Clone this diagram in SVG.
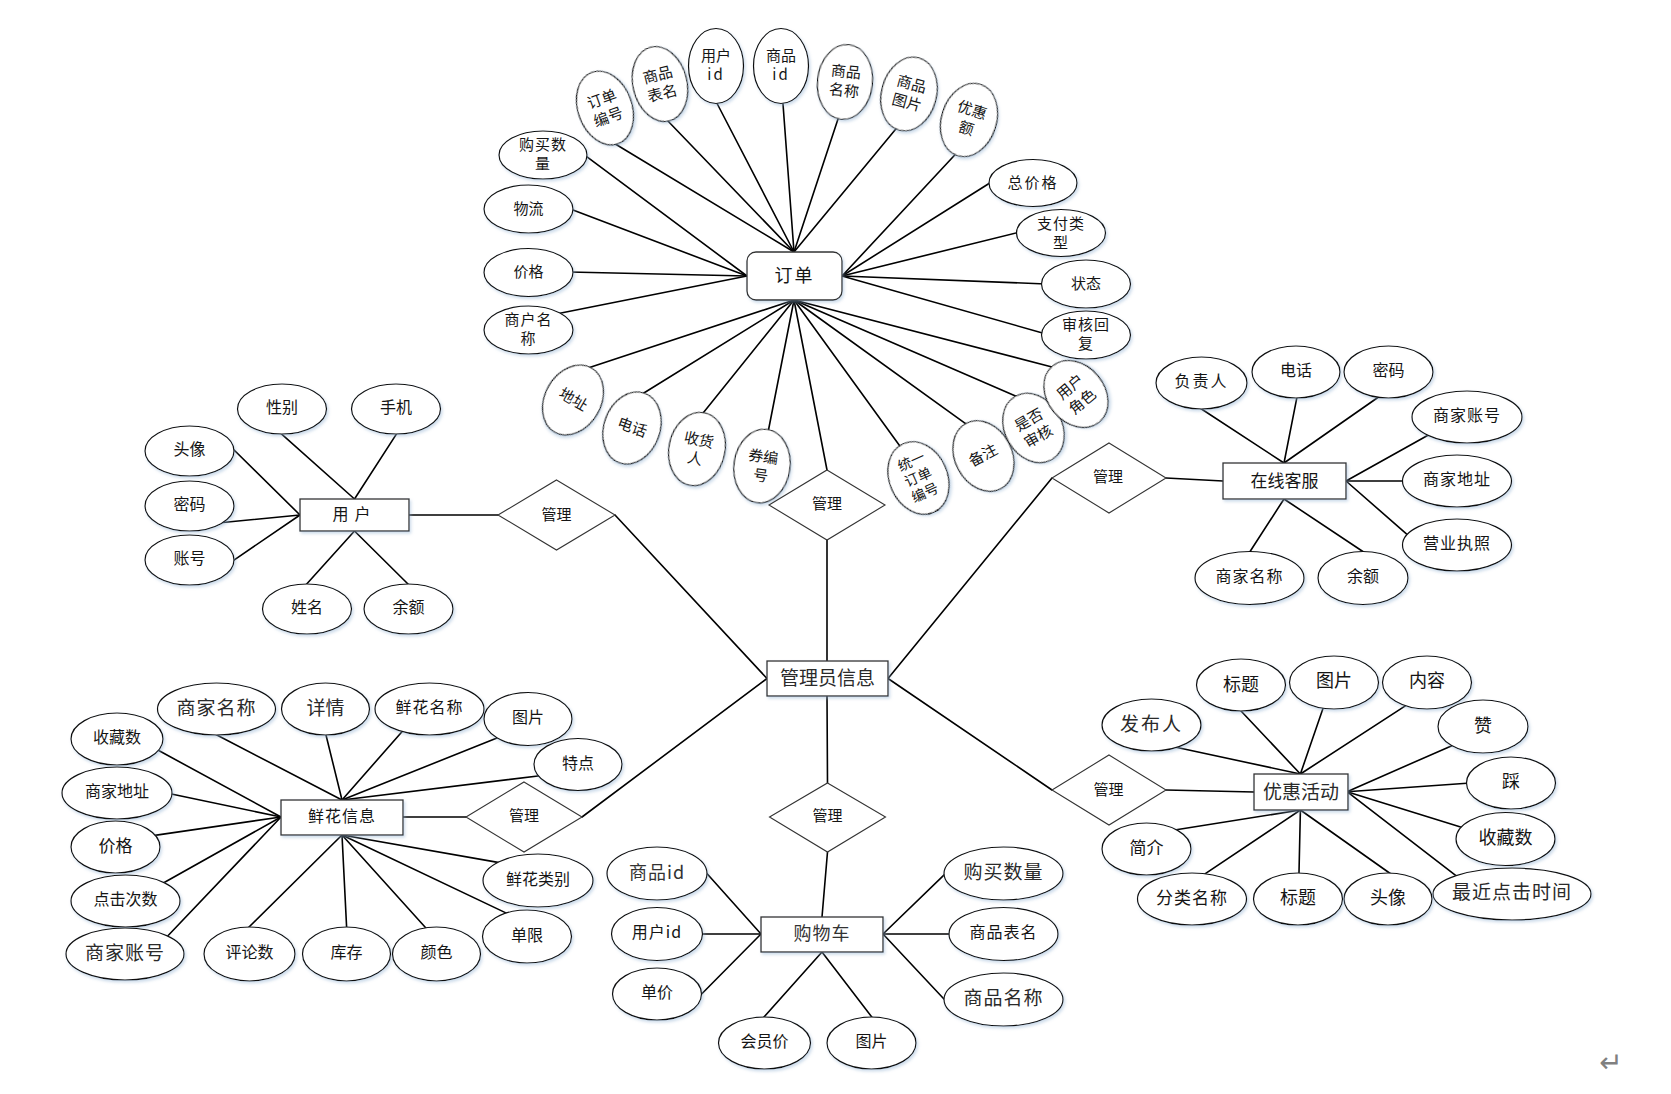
<svg xmlns="http://www.w3.org/2000/svg" width="1671" height="1094" viewBox="0 0 1671 1094">
<style>
.ln{stroke:#000;stroke-width:1.6;fill:none;stroke-linecap:round}
.el{fill:#fff;stroke:#111;stroke-width:1.2;filter:url(#sh)}
.rc{fill:#fff;stroke:#333;stroke-width:1.3;filter:url(#sh)}
.dm{fill:#fff;stroke:#333;stroke-width:1.1}
text{font-family:"Noto Sans CJK SC","Noto Sans",sans-serif;text-anchor:middle;dominant-baseline:central;fill:#151515;font-size:16px;transform:translateY(-2px)}
.s15{font-size:15px}
.s14{font-size:14px}
.s17{font-size:17px}
.s18{font-size:18px}
.s19{font-size:19px;fill:#2a2a2a}
.g{fill:#333}
</style>
<defs>
<filter id="sh" x="-20%" y="-20%" width="140%" height="150%">
<feDropShadow dx="1.5" dy="2" stdDeviation="1.4" flood-color="#8fb0d0" flood-opacity="0.45"/>
</filter>
</defs>
<rect width="1671" height="1094" fill="#fff"/>
<g id="connectors">
<line class="ln" x1="794" y1="252" x2="612" y2="142"/>
<line class="ln" x1="794" y1="252" x2="666" y2="119"/>
<line class="ln" x1="794" y1="252" x2="715" y2="99.5"/>
<line class="ln" x1="794" y1="252" x2="782.7" y2="100"/>
<line class="ln" x1="794" y1="252" x2="839" y2="116"/>
<line class="ln" x1="794" y1="252" x2="897.5" y2="127"/>
<line class="ln" x1="842" y1="276" x2="955.7" y2="154"/>
<line class="ln" x1="842" y1="276" x2="991.4" y2="182"/>
<line class="ln" x1="842" y1="276" x2="1020" y2="232"/>
<line class="ln" x1="842" y1="276" x2="1046" y2="284"/>
<line class="ln" x1="842" y1="276" x2="1046" y2="334"/>
<line class="ln" x1="747" y1="276" x2="584" y2="154.6"/>
<line class="ln" x1="747" y1="276" x2="569" y2="208.6"/>
<line class="ln" x1="747" y1="276" x2="569" y2="272"/>
<line class="ln" x1="747" y1="276" x2="556" y2="314"/>
<line class="ln" x1="794" y1="300" x2="588" y2="368"/>
<line class="ln" x1="794" y1="300" x2="640.6" y2="395"/>
<line class="ln" x1="794" y1="300" x2="701.5" y2="415"/>
<line class="ln" x1="794" y1="300" x2="767.7" y2="434"/>
<line class="ln" x1="794" y1="300" x2="827" y2="470"/>
<line class="ln" x1="794" y1="300" x2="901.3" y2="448"/>
<line class="ln" x1="794" y1="300" x2="968" y2="425.3"/>
<line class="ln" x1="794" y1="300" x2="1016.7" y2="396.6"/>
<line class="ln" x1="794" y1="300" x2="1052" y2="367"/>
<line class="ln" x1="827" y1="540" x2="827" y2="661"/>
<line class="ln" x1="354.5" y1="499" x2="279.7" y2="432.3"/>
<line class="ln" x1="354.5" y1="499" x2="398" y2="431.6"/>
<line class="ln" x1="300" y1="515" x2="231" y2="447"/>
<line class="ln" x1="300" y1="515" x2="217.7" y2="523"/>
<line class="ln" x1="300" y1="515" x2="230.7" y2="562.3"/>
<line class="ln" x1="354.5" y1="531" x2="304" y2="587"/>
<line class="ln" x1="354.5" y1="531" x2="411" y2="587"/>
<line class="ln" x1="409" y1="515" x2="498" y2="515"/>
<line class="ln" x1="615" y1="515" x2="767" y2="678.5"/>
<line class="ln" x1="1284" y1="463" x2="1198.4" y2="407"/>
<line class="ln" x1="1284" y1="463" x2="1297.5" y2="394.4"/>
<line class="ln" x1="1284" y1="463" x2="1380" y2="396"/>
<line class="ln" x1="1346" y1="481" x2="1430.2" y2="434"/>
<line class="ln" x1="1346" y1="481" x2="1406.7" y2="481"/>
<line class="ln" x1="1346" y1="481" x2="1410.7" y2="537.6"/>
<line class="ln" x1="1284" y1="499" x2="1247.8" y2="555"/>
<line class="ln" x1="1284" y1="499" x2="1366.6" y2="554"/>
<line class="ln" x1="1223" y1="481" x2="1166" y2="478"/>
<line class="ln" x1="1052" y1="478" x2="888" y2="678.5"/>
<line class="ln" x1="342" y1="800" x2="213" y2="733"/>
<line class="ln" x1="342" y1="800" x2="325" y2="731"/>
<line class="ln" x1="342" y1="800" x2="404.6" y2="728.7"/>
<line class="ln" x1="342" y1="800" x2="500.7" y2="736.5"/>
<line class="ln" x1="342" y1="800" x2="542" y2="775.5"/>
<line class="ln" x1="281" y1="817" x2="155.5" y2="748.8"/>
<line class="ln" x1="281" y1="817" x2="167.8" y2="793.2"/>
<line class="ln" x1="281" y1="817" x2="153" y2="835.6"/>
<line class="ln" x1="281" y1="817" x2="162" y2="883.7"/>
<line class="ln" x1="281" y1="817" x2="165.8" y2="938"/>
<line class="ln" x1="342" y1="835" x2="246" y2="930"/>
<line class="ln" x1="342" y1="835" x2="346.8" y2="931"/>
<line class="ln" x1="342" y1="835" x2="427.7" y2="930"/>
<line class="ln" x1="342" y1="835" x2="509" y2="914.4"/>
<line class="ln" x1="342" y1="835" x2="503.6" y2="863.4"/>
<line class="ln" x1="403" y1="817" x2="466" y2="817"/>
<line class="ln" x1="582" y1="817" x2="767" y2="678.5"/>
<line class="ln" x1="827" y1="696" x2="827.5" y2="783"/>
<line class="ln" x1="827.5" y1="852" x2="822" y2="917"/>
<line class="ln" x1="761" y1="934" x2="704" y2="870.3"/>
<line class="ln" x1="761" y1="934" x2="698.7" y2="934"/>
<line class="ln" x1="761" y1="934" x2="698.9" y2="996.8"/>
<line class="ln" x1="822" y1="952" x2="761.6" y2="1019.7"/>
<line class="ln" x1="822" y1="952" x2="874" y2="1019.9"/>
<line class="ln" x1="883" y1="934" x2="948" y2="871.2"/>
<line class="ln" x1="883" y1="934" x2="953.3" y2="934"/>
<line class="ln" x1="883" y1="934" x2="947.7" y2="1003"/>
<line class="ln" x1="1300.4" y1="774" x2="1172.5" y2="746.5"/>
<line class="ln" x1="1300.4" y1="774" x2="1238.9" y2="708.8"/>
<line class="ln" x1="1300.4" y1="774" x2="1324" y2="705.5"/>
<line class="ln" x1="1300.4" y1="774" x2="1408.4" y2="703.8"/>
<line class="ln" x1="1347" y1="791.7" x2="1454.7" y2="744.4"/>
<line class="ln" x1="1347" y1="791.7" x2="1470.4" y2="783"/>
<line class="ln" x1="1347" y1="791.7" x2="1463.8" y2="827.9"/>
<line class="ln" x1="1347" y1="791.7" x2="1458.2" y2="877.4"/>
<line class="ln" x1="1300.4" y1="810" x2="1390.9" y2="874"/>
<line class="ln" x1="1300.4" y1="810" x2="1298.9" y2="876.7"/>
<line class="ln" x1="1300.4" y1="810" x2="1203.5" y2="874.9"/>
<line class="ln" x1="1300.4" y1="810" x2="1174.7" y2="830"/>
<line class="ln" x1="1254" y1="792" x2="1166" y2="790"/>
<line class="ln" x1="1052" y1="790" x2="888" y2="678.5"/>
</g>

<g id="order"><rect class="rc" x="747" y="252" width="95" height="48" rx="9"/><text class="s18" x="794.5" y="276" letter-spacing="2">订单</text></g>
<g id="o-ddbh" transform="translate(605,108) rotate(-20)"><ellipse class="el" rx="27" ry="38"/><text class="s15"><tspan x="0" y="-9">订单</tspan><tspan x="0" y="10">编号</tspan></text></g>
<g id="o-spbm" transform="translate(660,84) rotate(-14)"><ellipse class="el" rx="27" ry="38"/><text class="s15"><tspan x="0" y="-9">商品</tspan><tspan x="0" y="10">表名</tspan></text></g>
<g id="o-yhid" transform="translate(716,66)"><ellipse class="el" rx="27.5" ry="37.5"/><text class="s15"><tspan x="0" y="-10">用户</tspan><tspan x="0" y="9" letter-spacing="2">id</tspan></text></g>
<g id="o-spid" transform="translate(781,66)"><ellipse class="el" rx="27.5" ry="37.5"/><text class="s15"><tspan x="0" y="-10">商品</tspan><tspan x="0" y="9" letter-spacing="2">id</tspan></text></g>
<g id="o-spmc" transform="translate(845,82) rotate(6)"><ellipse class="el" rx="27.5" ry="37.5"/><text class="s15"><tspan x="0" y="-10">商品</tspan><tspan x="0" y="9">名称</tspan></text></g>
<g id="o-sptp" transform="translate(909,94) rotate(15)"><ellipse class="el" rx="27.5" ry="37.5"/><text class="s15"><tspan x="0" y="-10">商品</tspan><tspan x="0" y="9">图片</tspan></text></g>
<g id="o-yhe" transform="translate(969,120) rotate(18)"><ellipse class="el" rx="27.5" ry="37.5"/><text class="s15"><tspan x="0" y="-10">优惠</tspan><tspan x="0" y="9">额</tspan></text></g>
<g id="o-zjg"><ellipse class="el" cx="1033" cy="183" rx="44" ry="23.5"/><text class="s15" x="1033" y="183" letter-spacing="2">总价格</text></g>
<g id="o-zflx"><ellipse class="el" cx="1061" cy="233" rx="44.5" ry="23.5"/><text class="s15" letter-spacing="1"><tspan x="1061" y="224">支付类</tspan><tspan x="1061" y="243">型</tspan></text></g>
<g id="o-zt"><ellipse class="el" cx="1086" cy="284" rx="44.5" ry="24"/><text class="s15" x="1086" y="284">状态</text></g>
<g id="o-shhf"><ellipse class="el" cx="1086" cy="335" rx="44.5" ry="24"/><text class="s15" letter-spacing="1"><tspan x="1086" y="325">审核回</tspan><tspan x="1086" y="344">复</tspan></text></g>
<g id="o-gmsl"><ellipse class="el" cx="543" cy="155" rx="44" ry="24"/><text class="s15" letter-spacing="1"><tspan x="543" y="145">购买数</tspan><tspan x="543" y="164">量</tspan></text></g>
<g id="o-wl"><ellipse class="el" cx="528.5" cy="209" rx="44.5" ry="24"/><text class="s15" x="528.5" y="209">物流</text></g>
<g id="o-jg"><ellipse class="el" cx="528.5" cy="272.5" rx="44.5" ry="24"/><text class="s15" x="528.5" y="272.5">价格</text></g>
<g id="o-shmc"><ellipse class="el" cx="528.5" cy="330" rx="44.5" ry="24"/><text class="s15" letter-spacing="1"><tspan x="528.5" y="320">商户名</tspan><tspan x="528.5" y="339">称</tspan></text></g>
<g id="o-dz" transform="translate(573,400) rotate(30)"><ellipse class="el" rx="28" ry="37"/><text class="s15" x="0" y="0">地址</text></g>
<g id="o-dh" transform="translate(632,428) rotate(20)"><ellipse class="el" rx="28" ry="37"/><text class="s15" x="0" y="0">电话</text></g>
<g id="o-shr" transform="translate(697,449) rotate(12)"><ellipse class="el" rx="28" ry="37"/><text class="s15"><tspan x="0" y="-9">收货</tspan><tspan x="0" y="10">人</tspan></text></g>
<g id="o-qbh" transform="translate(762,466) rotate(8)"><ellipse class="el" rx="28" ry="37"/><text class="s15"><tspan x="0" y="-9">券编</tspan><tspan x="0" y="10">号</tspan></text></g>
<g id="o-tyddbh" transform="translate(918.5,478) rotate(-24)"><ellipse class="el" rx="29" ry="37.5"/><text class="s14"><tspan x="0" y="-17">统一</tspan><tspan x="0" y="0">订单</tspan><tspan x="0" y="17">编号</tspan></text></g>
<g id="o-bz" transform="translate(983.5,456) rotate(-28)"><ellipse class="el" rx="28.5" ry="37"/><text class="s15" x="0" y="0">备注</text></g>
<g id="o-sfsh" transform="translate(1033.5,428) rotate(-30)"><ellipse class="el" rx="28.5" ry="36.5"/><text class="s15"><tspan x="0" y="-9">是否</tspan><tspan x="0" y="10">审核</tspan></text></g>
<g id="o-yhjs" transform="translate(1076,394) rotate(-40)"><ellipse class="el" rx="28.5" ry="36.5"/><text class="s15"><tspan x="0" y="-9">用户</tspan><tspan x="0" y="10">角色</tspan></text></g>
<g id="m-order"><polygon class="dm" points="827,470 885,505 827,540 769,505"/><text class="s15" x="827" y="504">管理</text></g>

<g id="user"><rect class="rc" x="300" y="499" width="109" height="32"/><text x="354.5" y="515" letter-spacing="6">用户</text></g>
<g id="u-xb"><ellipse class="el" cx="282" cy="409" rx="44.5" ry="25"/><text x="282" y="408">性别</text></g>
<g id="u-sj"><ellipse class="el" cx="396" cy="409" rx="44.5" ry="25"/><text x="396" y="408">手机</text></g>
<g id="u-tx"><ellipse class="el" cx="189.5" cy="451" rx="44.5" ry="25"/><text x="189.5" y="450">头像</text></g>
<g id="u-mm"><ellipse class="el" cx="189.5" cy="506" rx="44.5" ry="25"/><text x="189.5" y="505">密码</text></g>
<g id="u-zh"><ellipse class="el" cx="189.5" cy="560" rx="44.5" ry="25"/><text x="189.5" y="559">账号</text></g>
<g id="u-xm"><ellipse class="el" cx="307" cy="609" rx="44.5" ry="25"/><text x="307" y="608">姓名</text></g>
<g id="u-ye"><ellipse class="el" cx="408.5" cy="609" rx="44.5" ry="25"/><text x="408.5" y="608">余额</text></g>
<g id="m-user"><polygon class="dm" points="556.5,480 615,515 556.5,550 498,515"/><text class="s15" x="556.5" y="515">管理</text></g>

<g id="admin"><rect class="rc" x="767" y="661" width="121" height="35"/><text class="s19" x="827.5" y="678.5">管理员信息</text></g>

<g id="service"><rect class="rc" x="1223" y="463" width="123" height="36"/><text class="s17" x="1284.5" y="481">在线客服</text></g>
<g id="s-fzr"><ellipse class="el" cx="1201.5" cy="383" rx="45.5" ry="26"/><text x="1201.5" y="382" letter-spacing="2">负责人</text></g>
<g id="s-dh"><ellipse class="el" cx="1296" cy="372" rx="44" ry="26"/><text x="1296" y="371">电话</text></g>
<g id="s-mm"><ellipse class="el" cx="1388.5" cy="372" rx="44.5" ry="26"/><text x="1388.5" y="371">密码</text></g>
<g id="s-sjzh"><ellipse class="el" cx="1467" cy="417" rx="55" ry="26"/><text x="1467" y="416" letter-spacing="1">商家账号</text></g>
<g id="s-sjdz"><ellipse class="el" cx="1457" cy="481" rx="54.5" ry="26"/><text x="1457" y="480" letter-spacing="1">商家地址</text></g>
<g id="s-yyzz"><ellipse class="el" cx="1457" cy="545" rx="54.5" ry="26"/><text x="1457" y="544" letter-spacing="1">营业执照</text></g>
<g id="s-sjmc"><ellipse class="el" cx="1249.5" cy="578" rx="54.5" ry="26.5"/><text x="1249.5" y="577" letter-spacing="1">商家名称</text></g>
<g id="s-ye"><ellipse class="el" cx="1363" cy="578" rx="45" ry="26.5"/><text x="1363" y="577">余额</text></g>
<g id="m-service"><polygon class="dm" points="1109,443 1166,478 1109,513 1052,478"/><text class="s15" x="1108" y="477">管理</text></g>

<g id="flower"><rect class="rc" x="281" y="800" width="122" height="35"/><text x="342" y="817" letter-spacing="1">鲜花信息</text></g>
<g id="f-sjmc"><ellipse class="el" cx="216.5" cy="709" rx="59" ry="26"/><text class="s19" x="216.5" y="708" letter-spacing="1">商家名称</text></g>
<g id="f-xq"><ellipse class="el" cx="325.5" cy="709" rx="44" ry="26"/><text class="s19" x="325.5" y="708">详情</text></g>
<g id="f-xhmc"><ellipse class="el" cx="429.5" cy="709" rx="54.5" ry="26"/><text x="429.5" y="708" letter-spacing="1">鲜花名称</text></g>
<g id="f-tp"><ellipse class="el" cx="528" cy="719" rx="44" ry="26.5"/><text x="528" y="718">图片</text></g>
<g id="f-td"><ellipse class="el" cx="578" cy="764.5" rx="44" ry="26"/><text x="578" y="764">特点</text></g>
<g id="f-scs"><ellipse class="el" cx="117" cy="739" rx="46" ry="26"/><text x="117" y="738">收藏数</text></g>
<g id="f-sjdz"><ellipse class="el" cx="117" cy="793" rx="55" ry="26"/><text x="117" y="792">商家地址</text></g>
<g id="f-jg"><ellipse class="el" cx="115.5" cy="847" rx="44.5" ry="26"/><text class="s17" x="115.5" y="846">价格</text></g>
<g id="f-djcs"><ellipse class="el" cx="125.5" cy="901" rx="54.5" ry="26"/><text x="125.5" y="900">点击次数</text></g>
<g id="f-sjzh"><ellipse class="el" cx="125" cy="954" rx="59" ry="26"/><text class="s19" x="125" y="953" letter-spacing="1">商家账号</text></g>
<g id="f-pls"><ellipse class="el" cx="249.5" cy="954" rx="45.5" ry="27"/><text x="249.5" y="953">评论数</text></g>
<g id="f-kc"><ellipse class="el" cx="346.5" cy="954" rx="44" ry="27"/><text x="346.5" y="953">库存</text></g>
<g id="f-ys"><ellipse class="el" cx="436.5" cy="954" rx="44" ry="27"/><text x="436.5" y="953">颜色</text></g>
<g id="f-dx"><ellipse class="el" cx="527" cy="936.5" rx="44.5" ry="26.5"/><text x="527" y="935.5">单限</text></g>
<g id="f-xhlb"><ellipse class="el" cx="538" cy="880.5" rx="55" ry="26.5"/><text x="538" y="879.5">鲜花类别</text></g>
<g id="m-flower"><polygon class="dm" points="524,782 582,817 524,852 466,817"/><text class="s15" x="524" y="816.5">管理</text></g>

<g id="cart"><rect class="rc" x="761" y="917" width="122" height="35"/><text class="s18 g" x="822" y="934" letter-spacing="1">购物车</text></g>
<g id="m-cart"><polygon class="dm" points="827.5,783 885.5,817 827.5,852 769.5,817"/><text class="s15" x="827.5" y="816.5">管理</text></g>
<g id="c-spid"><ellipse class="el" cx="657" cy="873.5" rx="50" ry="26.5"/><text class="s18 g" x="657" y="872.5" letter-spacing="1">商品id</text></g>
<g id="c-yhid"><ellipse class="el" cx="657" cy="934" rx="45.5" ry="26.5"/><text x="657" y="933" letter-spacing="1">用户id</text></g>
<g id="c-dj"><ellipse class="el" cx="657" cy="994" rx="44.5" ry="26"/><text x="657" y="993">单价</text></g>
<g id="c-hyj"><ellipse class="el" cx="764.5" cy="1043" rx="46" ry="26"/><text x="764.5" y="1042">会员价</text></g>
<g id="c-tp"><ellipse class="el" cx="871.5" cy="1043" rx="44.5" ry="26"/><text x="871.5" y="1042">图片</text></g>
<g id="c-gmsl"><ellipse class="el" cx="1003.5" cy="873.5" rx="59.5" ry="26.5"/><text class="s19" x="1003.5" y="872.5" letter-spacing="1">购买数量</text></g>
<g id="c-spbm"><ellipse class="el" cx="1003.5" cy="934" rx="54.5" ry="26.5"/><text x="1003.5" y="933" letter-spacing="1">商品表名</text></g>
<g id="c-spmc"><ellipse class="el" cx="1003.5" cy="999.5" rx="59.5" ry="26.5"/><text class="s19" x="1003.5" y="998.5" letter-spacing="1">商品名称</text></g>

<g id="promo"><rect class="rc" x="1254" y="774" width="94" height="36"/><text class="s19" x="1301" y="792">优惠活动</text></g>
<g id="m-promo"><polygon class="dm" points="1109,755 1166,790 1109,825 1052,790"/><text class="s15" x="1108.5" y="790">管理</text></g>
<g id="p-fbr"><ellipse class="el" cx="1151.5" cy="725" rx="49.5" ry="26"/><text class="s19" x="1151.5" y="724" letter-spacing="2">发布人</text></g>
<g id="p-bt1"><ellipse class="el" cx="1241" cy="685" rx="44.5" ry="26"/><text class="s18" x="1241" y="685">标题</text></g>
<g id="p-tp"><ellipse class="el" cx="1334" cy="682.5" rx="44.5" ry="26.5"/><text class="s18" x="1334" y="681">图片</text></g>
<g id="p-nr"><ellipse class="el" cx="1427" cy="682.5" rx="44.5" ry="26.5"/><text class="s18" x="1427" y="681">内容</text></g>
<g id="p-z"><ellipse class="el" cx="1483" cy="726.5" rx="45" ry="26.5"/><text class="s18" x="1483" y="725.5">赞</text></g>
<g id="p-c"><ellipse class="el" cx="1511" cy="783" rx="44.5" ry="26"/><text class="s18" x="1511" y="782">踩</text></g>
<g id="p-scs"><ellipse class="el" cx="1505.5" cy="839" rx="49.5" ry="26.5"/><text class="s18" x="1505.5" y="838">收藏数</text></g>
<g id="p-zjdjsj"><ellipse class="el" cx="1512" cy="894" rx="79" ry="26"/><text class="s19" x="1512" y="892" letter-spacing="1">最近点击时间</text></g>
<g id="p-tx"><ellipse class="el" cx="1388" cy="899" rx="44" ry="26"/><text class="s18" x="1388" y="898">头像</text></g>
<g id="p-bt2"><ellipse class="el" cx="1298" cy="899" rx="44.5" ry="26"/><text class="s18" x="1298" y="898">标题</text></g>
<g id="p-flmc"><ellipse class="el" cx="1192" cy="899" rx="54.5" ry="26"/><text class="s17" x="1192" y="898" letter-spacing="1">分类名称</text></g>
<g id="p-jj"><ellipse class="el" cx="1146.5" cy="849" rx="44.5" ry="26"/><text class="s17" x="1146.5" y="848">简介</text></g>

<text x="1611" y="1064" style="font-family:'DejaVu Sans',sans-serif;font-size:28px;fill:#808080">↵</text>
</svg>
